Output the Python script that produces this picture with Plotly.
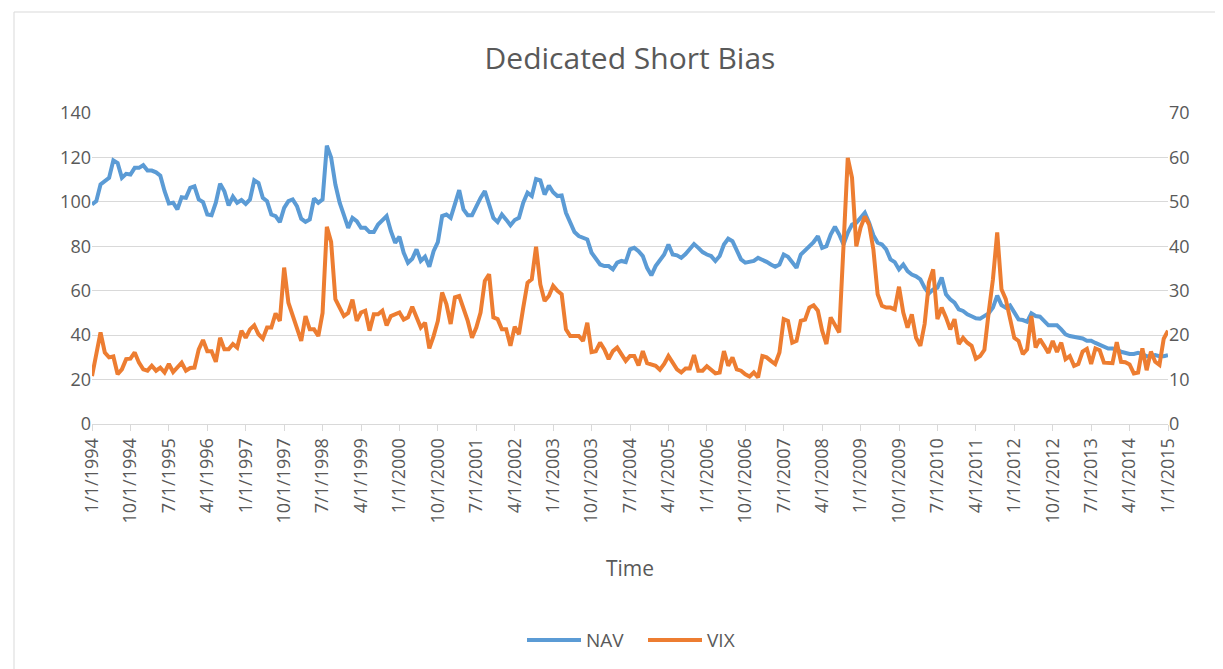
import pandas as pd
import plotly.graph_objects as go

# Monthly observations, 1/1/1994 .. 1/1/2015
dates = [f"{d.month}/{d.day}/{d.year}" for d in pd.date_range("1994-01-01", "2015-01-01", freq="MS")]

nav = [
    98.8, 100.3, 107.8, 109.5, 110.8, 118.7, 117.5, 110.8, 112.6, 112.3, 115.3, 115.3,   # 1994
    116.5, 114.1, 114.1, 113.3, 111.8, 104.8, 99.3, 99.6, 96.6, 102.1, 101.8, 106.3,     # 1995
    107.0, 101.1, 99.9, 94.3, 94.0, 99.6, 108.2, 104.8, 98.4, 102.3, 99.6, 100.8,       # 1996
    99.1, 101.1, 109.7, 108.5, 101.8, 100.3, 94.3, 93.6, 90.9, 97.3, 100.3, 101.1,      # 1997
    98.1, 92.4, 91.0, 92.1, 101.5, 99.6, 101.1, 125.3, 120.0, 107.8, 99.6, 94.0,        # 1998
    88.3, 92.8, 91.3, 88.3, 88.3, 86.4, 86.4, 89.8, 91.8, 93.6, 86.8, 81.6,             # 1999
    84.3, 77.1, 72.6, 74.4, 78.6, 73.4, 75.3, 70.8, 77.8, 81.9, 93.6, 94.3,             # 2000
    92.8, 99.6, 105.3, 96.6, 94.0, 94.0, 98.1, 101.8, 104.8, 98.8, 92.8, 90.9,          # 2001
    94.3, 92.0, 89.5, 91.8, 92.8, 99.6, 104.1, 102.6, 110.3, 109.7, 103.3, 107.3,       # 2002
    104.3, 102.6, 102.9, 95.1, 91.0, 86.4, 84.6, 83.8, 83.1, 77.1, 74.8, 71.8,          # 2003
    71.1, 71.1, 69.6, 72.6, 73.4, 72.9, 78.6, 79.3, 77.8, 75.6, 70.3, 66.9,             # 2004
    71.1, 73.4, 76.3, 80.8, 76.3, 75.9, 74.8, 76.5, 79.0, 81.0, 79.3, 77.4,             # 2005
    76.3, 75.6, 73.4, 75.6, 80.8, 83.4, 82.3, 78.6, 74.1, 72.6, 73.0, 73.4,             # 2006
    74.8, 74.1, 73.0, 71.8, 70.8, 71.8, 76.3, 75.3, 72.6, 70.3, 76.3, 78.0,             # 2007
    80.0, 81.9, 84.5, 79.3, 80.0, 85.3, 88.8, 85.3, 80.8, 86.1, 89.8, 90.6,             # 2008
    92.8, 95.1, 90.6, 85.0, 81.6, 80.8, 78.6, 74.1, 72.9, 69.6, 71.8, 68.8,             # 2009
    67.3, 66.5, 65.1, 61.4, 58.8, 60.6, 61.4, 65.9, 58.4, 56.1, 54.6, 51.6,             # 2010
    50.9, 49.4, 48.5, 47.6, 47.4, 48.6, 49.8, 52.4, 57.8, 53.5, 52.4, 53.4,             # 2011
    50.1, 47.1, 46.8, 46.0, 49.8, 48.6, 48.3, 46.4, 44.4, 44.4, 44.4, 42.6,             # 2012
    40.4, 39.6, 39.2, 38.9, 38.5, 37.5, 37.5, 36.5, 35.5, 35.0, 34.0, 34.0,             # 2013
    33.5, 32.5, 32.0, 31.5, 31.5, 32.0, 31.5, 30.5, 30.5, 31.0, 30.5, 30.5,             # 2014
    31.0,                                                                              # 2015
]

vix = [
    10.8, 15.3, 20.6, 16.1, 15.0, 15.2, 11.2, 12.3, 14.6, 14.7, 16.1, 13.8,   # 1994
    12.3, 12.0, 13.1, 12.0, 12.7, 11.6, 13.5, 11.7, 12.7, 13.8, 12.0, 12.6,   # 1995
    12.7, 16.8, 18.9, 16.4, 16.4, 14.0, 19.4, 16.8, 16.8, 18.0, 17.2, 21.0,   # 1996
    19.4, 21.3, 22.2, 20.2, 19.2, 21.7, 21.7, 24.9, 23.2, 35.2, 27.3, 24.3,   # 1997
    21.3, 18.7, 24.3, 21.3, 21.3, 19.8, 25.0, 44.4, 41.0, 28.1, 26.2, 24.3,   # 1998
    25.0, 28.0, 23.2, 25.1, 25.5, 21.0, 24.7, 24.7, 25.5, 22.2, 24.3, 24.8,   # 1999
    25.1, 23.5, 24.0, 26.4, 24.3, 21.7, 22.8, 17.0, 19.8, 23.2, 29.6, 27.0,   # 2000
    22.5, 28.5, 28.8, 25.8, 23.2, 19.4, 21.7, 25.1, 32.2, 33.7, 24.0, 23.6,   # 2001
    21.3, 21.3, 17.6, 21.9, 20.2, 26.2, 31.8, 32.6, 39.9, 31.4, 27.7, 28.8,   # 2002
    31.1, 30.0, 29.2, 21.3, 19.8, 19.8, 19.8, 18.7, 22.8, 16.2, 16.4, 18.3,   # 2003
    16.8, 14.6, 16.4, 17.2, 15.5, 14.2, 15.3, 15.3, 13.2, 16.4, 13.7, 13.5,   # 2004
    13.1, 12.2, 13.5, 15.3, 13.7, 12.3, 11.6, 12.5, 12.5, 15.5, 12.0, 12.0,   # 2005
    13.0, 12.3, 11.4, 11.6, 16.4, 13.1, 15.0, 12.3, 12.0, 11.2, 10.7, 11.6,   # 2006
    10.5, 15.3, 15.0, 14.2, 13.5, 16.1, 23.6, 23.2, 18.3, 18.7, 23.2, 23.5,   # 2007
    26.2, 26.7, 25.5, 21.0, 18.0, 24.0, 22.5, 20.6, 40.0, 59.9, 55.4, 40.0,   # 2008
    44.2, 46.7, 44.9, 39.3, 29.2, 26.6, 26.2, 26.2, 25.8, 30.9, 25.1, 21.7,   # 2009
    24.7, 19.4, 17.6, 22.5, 31.8, 34.8, 23.6, 26.2, 24.0, 21.3, 23.6, 18.0,   # 2010
    19.4, 18.3, 17.6, 14.7, 15.3, 16.7, 25.1, 32.6, 43.1, 30.3, 28.1, 23.6,   # 2011
    19.4, 18.7, 15.7, 16.8, 24.3, 17.2, 19.1, 17.6, 16.0, 18.7, 16.2, 18.3,   # 2012
    14.6, 15.3, 13.1, 13.5, 16.3, 16.9, 13.5, 17.0, 16.6, 13.8, 13.7, 13.7,   # 2013
    18.4, 14.0, 13.9, 13.4, 11.4, 11.6, 17.0, 12.1, 16.3, 14.0, 13.3, 19.2,   # 2014
    21.0,                                                                    # 2015
]

series_names = ["NAV", "VIX"]
series_colors = ["#5B9BD5", "#ED7D31"]
tick_labels = dates[::9]

FONT = "Open Sans"
TXT = "#595959"
GRID = "#d9d9d9"

# plot-area geometry (px) used to place paper-referenced decorations
L, R, T, B = 84, 1160, 105, 416
PW, PH = R - L, B - T


def px(xp):
    return (xp - L) / PW


def py(yp):
    return (B - yp) / PH


fig = go.Figure()
fig.add_trace(go.Scatter(x=dates, y=nav, name=series_names[0], mode="lines",
                         line=dict(color=series_colors[0], width=4), showlegend=False))
fig.add_trace(go.Scatter(x=dates, y=vix, name=series_names[1], mode="lines", yaxis="y2",
                         line=dict(color=series_colors[1], width=4), showlegend=False))

# legend drawn as line samples + labels (Excel-style long swatches)
leg_y = py(632)
shapes = [dict(type="rect", xref="paper", yref="paper",
               x0=px(6), x1=px(1217), y0=py(665), y1=py(4),
               line=dict(color=GRID, width=1), layer="below")]
annotations = [dict(text="Time", xref="paper", yref="paper", x=px(622), y=py(560),
                    xanchor="center", yanchor="middle", showarrow=False,
                    font=dict(size=21, color=TXT))]
for name, color, x0 in zip(series_names, series_colors, [519, 640]):
    shapes.append(dict(type="line", xref="paper", yref="paper",
                       x0=px(x0), x1=px(x0 + 54), y0=leg_y, y1=leg_y,
                       line=dict(color=color, width=4)))
    annotations.append(dict(text=name, xref="paper", yref="paper", x=px(x0 + 57), y=leg_y,
                            xanchor="left", yanchor="middle", showarrow=False,
                            font=dict(size=19, color=TXT)))

fig.update_layout(
    width=1223, height=669,
    margin=dict(l=L, r=1223 - R, t=T, b=669 - B),
    paper_bgcolor="white", plot_bgcolor="white",
    font=dict(family=FONT, color=TXT, size=18),
    showlegend=False,
    title=dict(text="Dedicated Short Bias", x=0.5, xref="paper", y=1 - 50 / 669,
               yanchor="middle", xanchor="center", font=dict(size=30, color=TXT)),
    xaxis=dict(type="category", range=[0, len(dates) - 1], tickmode="array",
               tickvals=tick_labels, ticktext=tick_labels, tickangle=-90,
               showgrid=False, showline=True, linecolor=GRID, linewidth=1,
               ticks="outside", ticklen=6, tickcolor=GRID,
               tickfont=dict(size=18, color=TXT)),
    yaxis=dict(range=[0, 140], dtick=20, showgrid=True, gridcolor=GRID, gridwidth=1,
               zeroline=False, showline=False, ticks="", tickfont=dict(size=18, color=TXT)),
    yaxis2=dict(range=[0, 70], dtick=10, overlaying="y", side="right", showgrid=False,
                zeroline=False, showline=False, ticks="", tickfont=dict(size=18, color=TXT)),
    annotations=annotations,
    shapes=shapes,
)

fig.write_html("out.html")
